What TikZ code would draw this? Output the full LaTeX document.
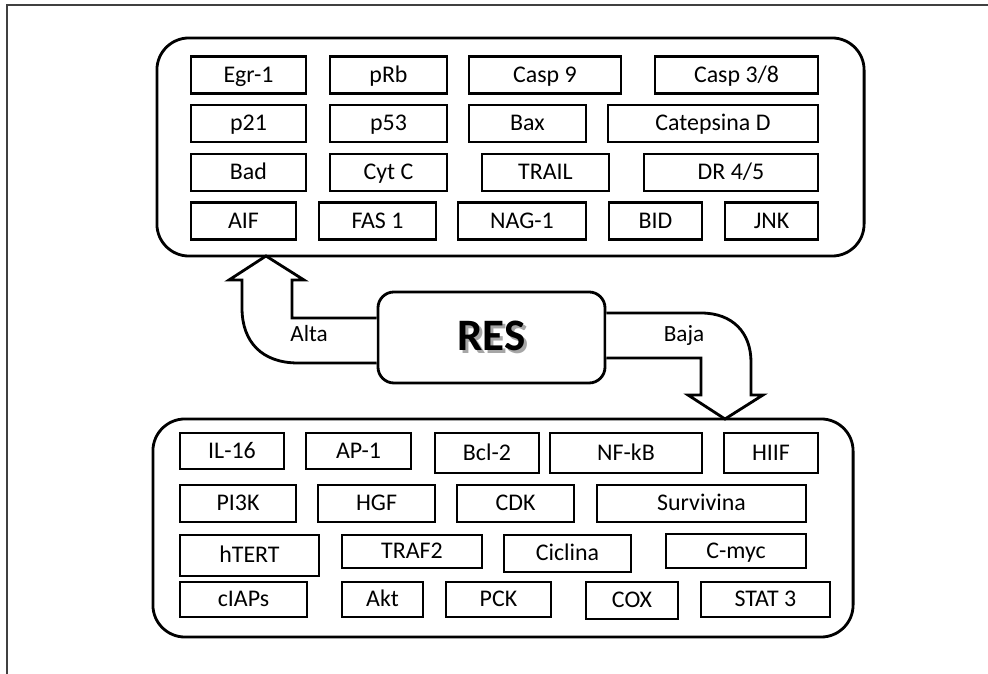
\documentclass[tikz,border=0pt]{standalone}
\usepackage{fontspec}
\setmainfont{Carlito}
\usepackage{xcolor}
\usepackage{tikz}
\usetikzlibrary{calc}
\tikzset{
  genebox/.style={
    draw, line width=1.9pt, inner sep=0pt,
    minimum height=0.92cm, fill=white,
    text height=12.5pt, text depth=2pt,
    font=\fontsize{17}{20}\selectfont
  },
  groupbox/.style={
    draw, line width=2pt, rounded corners=0.8cm,
    minimum height=5.45cm
  },
  resbox/.style={
    draw, line width=2pt, rounded corners=0.4cm, fill=white,
    minimum width=5.675cm, minimum height=2.275cm,
    font=\fontsize{32}{36}\selectfont\bfseries
  },
  blockarrow/.style={draw, line width=2pt, fill=white, line join=miter},
  arrowlabel/.style={font=\fontsize{16.5}{19}\selectfont},
  framedge/.style={draw=black!75, line width=1.1pt},
}

\begin{document}
\begin{tikzpicture}[x=0.025cm, y=-0.025cm]
  \useasboundingbox (0,0) rectangle (988,674);
  \draw[framedge] (7,674) -- (7,5) -- (988,5);

  % upper group
  \node[groupbox, minimum width=17.675cm] (upper) at (510.5,147) {};
  \node[genebox, minimum width=2.875cm] (egr) at (248.5,75) {Egr-1};
  \node[genebox, minimum width=2.925cm] (prb) at (388.5,75) {pRb};
  \node[genebox, minimum width=3.8cm] (caspnine) at (545,75) {Casp 9};
  \node[genebox, minimum width=4.075cm] (caspthree) at (736.5,75) {Casp 3/8};
  \node[genebox, minimum width=2.875cm] (ptwone) at (248.5,123.5) {p21};
  \node[genebox, minimum width=2.925cm] (pfithree) at (388.5,123.5) {p53};
  \node[genebox, minimum width=2.925cm] (bax) at (527.5,123.5) {Bax};
  \node[genebox, minimum width=5.25cm] (catepsina) at (713,123.5) {Catepsina D};
  \node[genebox, minimum width=2.875cm] (bad) at (248.5,172.5) {Bad};
  \node[genebox, minimum width=2.925cm] (cytc) at (388.5,172.5) {Cyt C};
  \node[genebox, minimum width=3.175cm] (trail) at (545.5,172.5) {TRAIL};
  \node[genebox, minimum width=4.35cm] (dr) at (731,172.5) {DR 4/5};
  \node[genebox, minimum width=2.625cm] (aif) at (243.5,221) {AIF};
  \node[genebox, minimum width=2.925cm] (fas) at (377.5,221) {FAS 1};
  \node[genebox, minimum width=3.2cm] (nag) at (522,221) {NAG-1};
  \node[genebox, minimum width=2.325cm] (bid) at (655.5,221) {BID};
  \node[genebox, minimum width=2.325cm] (jnk) at (771.5,221) {JNK};

  % lower group
  \node[groupbox, minimum width=17.5cm] (lower) at (503,528) {};
  \node[genebox, minimum width=2.6cm, minimum height=0.9cm] (ilsix) at (232,451) {IL-16};
  \node[genebox, minimum width=2.625cm, minimum height=0.9cm] (apone) at (358.5,451) {AP-1};
  \node[genebox, minimum width=2.6cm, minimum height=1cm] (bcl) at (487,453) {Bcl-2};
  \node[genebox, minimum width=3.8cm, minimum height=1cm] (nfkb) at (626,453) {NF-kB};
  \node[genebox, minimum width=2.35cm, minimum height=1cm] (hiif) at (771,453) {HIIF};
  \node[genebox, minimum width=2.9cm] (pithree) at (238,503.5) {PI3K};
  \node[genebox, minimum width=2.925cm] (hgf) at (376.5,503.5) {HGF};
  \node[genebox, minimum width=2.925cm] (cdk) at (515.5,503.5) {CDK};
  \node[genebox, minimum width=5.225cm] (survivina) at (701.5,503.5) {Survivina};
  \node[genebox, minimum width=3.475cm, minimum height=1.025cm] (htert) at (249.5,555.5) {hTERT};
  \node[genebox, minimum width=3.5cm, minimum height=0.825cm] (traf) at (412,551.5) {TRAF2};
  \node[genebox, minimum width=3.175cm] (ciclina) at (567.5,553.5) {Ciclina};
  \node[genebox, minimum width=3.5cm, minimum height=0.85cm] (cmyc) at (736,551) {C-myc};
  \node[genebox, minimum width=3.175cm, minimum height=0.875cm] (ciaps) at (243.5,599.5) {cIAPs};
  \node[genebox, minimum width=2.025cm, minimum height=0.875cm] (akt) at (382.5,599.5) {Akt};
  \node[genebox, minimum width=2.625cm, minimum height=0.875cm] (pck) at (498.5,599.5) {PCK};
  \node[genebox, minimum width=2.3cm] (cox) at (632,600.5) {COX};
  \node[genebox, minimum width=3.225cm, minimum height=0.875cm] (stat) at (765.5,599.5) {STAT 3};

  % centre
  \node[resbox] (res) at (491.5,337.5)
    {\rlap{\hspace{2pt}\raisebox{-2pt}{\textcolor{black!35}{RES}}}RES};

  \draw[blockarrow] ($(res.west)+(0,-19.5)$) -- (292,318) -- (292,280) -- (304,280)
    -- (266,256) -- (229,280) -- (242,280) -- (242,308)
    .. controls (242,342) and (262,363) .. (298,363) -- ($(res.west)+(0,25.5)$);
  \draw[blockarrow] ($(res.east)+(0,-24.5)$) -- (701,313)
    .. controls (733,313) and (751,333) .. (751,362) -- (751,395) -- (763,395)
    -- (725,419) -- (688,395) -- (701,395) -- (701,358) -- ($(res.east)+(0,20.5)$);

  \node[arrowlabel] (alta) at (309,334) {Alta};
  \node[arrowlabel] (baja) at (684,336) {Baja};
\end{tikzpicture}
\end{document}
